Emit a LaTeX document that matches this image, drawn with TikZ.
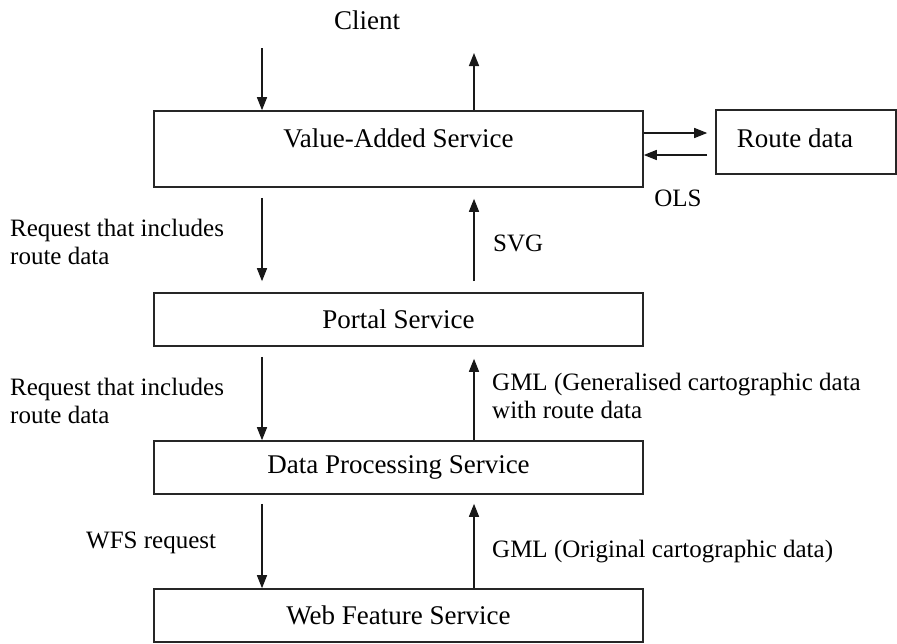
\documentclass[tikz,border=0pt]{standalone}
\usepackage{fontspec}
\setmainfont{Liberation Serif}
\usetikzlibrary{arrows.meta,calc}
\begin{document}
\begin{tikzpicture}[x=1pt,y=-1pt,
  box/.style={draw=black!85, line width=1.6pt, rectangle, inner sep=0pt, minimum width=489pt},
  boxtext/.style={font=\fontsize{27}{32}\selectfont, inner sep=0pt},
  lbl/.style={font=\fontsize{25}{28}\selectfont, inner sep=0pt, align=left, anchor=west},
  arr/.style={line width=1.5pt, draw=black!90, -{Triangle[length=13pt,width=10pt]}}]
\useasboundingbox (0,0) rectangle (897,643);

% boxes
\node[box, minimum height=76pt] (vas) at (398.5,149) {};
\node[boxtext] (vast) at (398.5,138) {Value-Added Service};
\node[box, minimum height=53pt] (portal) at (398.5,319.5) {};
\node[boxtext] (portalt) at (398.5,319) {Portal Service};
\node[box, minimum height=53pt] (dps) at (398.5,467.5) {};
\node[boxtext] (dpst) at (398.5,467) {Data Processing Service};
\node[box, minimum height=53pt] (wfs) at (398.5,615.5) {};
\node[boxtext] (wfst) at (398.5,615) {Web Feature Service};
\node[box, minimum width=180pt, minimum height=64pt] (route) at (806,142) {};
\node[boxtext] (routet) at (795,138) {Route data};

% labels
\node[boxtext] (client) at (367,20) {Client};
\node[lbl, anchor=center] (ols) at (678,198) {OLS};
\node[lbl] (req1) at (10,242) {Request that includes\\route data};
\node[lbl] (svg) at (493,243) {SVG};
\node[lbl] (req2) at (10,401) {Request that includes\\route data};
\node[lbl] (gml1) at (492,396) {GML (Generalised cartographic data\\with route data};
\node[lbl] (wfsreq) at (86,543) {WFS request};
\node[lbl] (gml2) at (492,552) {GML (Original cartographic data)};

% coordinates
\coordinate (xd) at (262,0);
\coordinate (xu) at (474,0);
\coordinate (ctop) at (262,48);
\coordinate (cout) at (474,53);
\coordinate (ya) at (0,133);
\coordinate (yb) at (0,155);

% client arrows
\draw[arr] (ctop) -- (vas.north -| ctop);
\draw[arr] (vas.north -| cout) -- (cout);

% OLS arrows
\draw[arr, shorten >=8pt] (vas.east |- ya) -- (route.west |- ya);
\draw[arr] ($(route.west |- yb)+(-8,0)$) -- (vas.east |- yb);

% vas <-> portal
\draw[arr] ($(vas.south -| xd)+(0,10)$) -- ($(portal.north -| xd)+(0,-11)$);
\draw[arr] ($(portal.north -| xu)+(0,-11)$) -- ($(vas.south -| xu)+(0,11)$);

% portal <-> dps
\draw[arr] ($(portal.south -| xd)+(0,10)$) -- (dps.north -| xd);
\draw[arr] (dps.north -| xu) -- ($(portal.south -| xu)+(0,12)$);

% dps <-> wfs
\draw[arr] ($(dps.south -| xd)+(0,9)$) -- (wfs.north -| xd);
\draw[arr] (wfs.north -| xu) -- ($(dps.south -| xu)+(0,9)$);
\end{tikzpicture}
\end{document}
